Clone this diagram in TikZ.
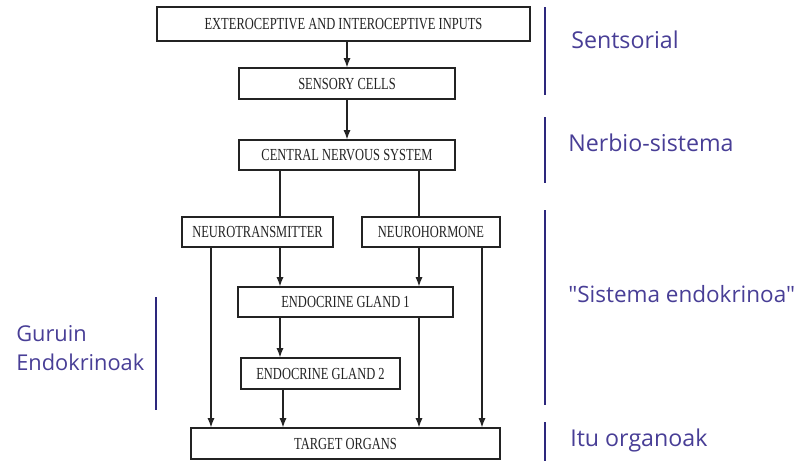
\documentclass[tikz,border=0pt]{standalone}
\usepackage{fontspec}
\usepackage{xcolor}
\usepackage{tikz}
\usetikzlibrary{arrows.meta, positioning, calc}
\setmainfont{Liberation Serif}
\newfontfamily\boxfont{Liberation Serif}[FakeStretch=0.74]
\newfontfamily\tagfont{Open Sans}
\definecolor{mydark}{RGB}{35,35,35}
\definecolor{mynavy}{RGB}{45,40,125}
\definecolor{mytag}{RGB}{72,62,150}
\tikzset{
  line/.style={draw=mydark, line width=0.9pt},
  arrow/.style={draw=mydark, line width=0.9pt, -{Latex[length=6.5pt, width=5pt]}},
  block/.style={draw=mydark, line width=0.9pt, fill=white, rectangle, inner sep=0pt, align=center, font=\boxfont\fontsize{12}{14}\selectfont, text=mydark},
  bar/.style={draw=mynavy, line width=2pt},
  tag/.style={anchor=west, inner sep=0pt, align=left, text=mytag, font=\tagfont\fontsize{16.5}{20}\selectfont}
}

\begin{document}
\begin{tikzpicture}[x=0.025cm, y=-0.025cm]
  \useasboundingbox (0,0) rectangle (799,461);

  % the chain of boxes
  \node [block, minimum width=9.325cm, minimum height=0.85cm] (inputs) at (343.5,24) {EXTEROCEPTIVE AND INTEROCEPTIVE INPUTS};
  \node [block, minimum width=5.4cm, minimum height=0.775cm] (sensory) at (347,83.5) {SENSORY CELLS};
  \node [block, minimum width=5.4cm, minimum height=0.75cm] (cns) at (347,155) {CENTRAL NERVOUS SYSTEM};
  \node [block, minimum width=3.775cm, minimum height=0.75cm] (ntrans) at (257.5,232) {NEUROTRANSMITTER};
  \node [block, minimum width=3.45cm, minimum height=0.75cm] (nhorm) at (431,232) {NEUROHORMONE};
  \node [block, minimum width=5.375cm, minimum height=0.75cm] (gland1) at (345.5,302) {ENDOCRINE GLAND 1};
  \node [block, minimum width=3.975cm, minimum height=0.775cm] (gland2) at (320.5,373.5) {ENDOCRINE GLAND 2};
  \node [block, minimum width=7.725cm, minimum height=0.775cm] (target) at (345.5,443.5) {TARGET ORGANS};

  % columns the connectors run along
  \coordinate (colA) at (211,0);
  \coordinate (colB) at (280,0);
  \coordinate (colC) at (283,0);
  \coordinate (colD) at (419,0);
  \coordinate (colE) at (482,0);

  \draw [arrow] (inputs.south -| sensory.north) -- (sensory.north);
  \draw [arrow] (sensory) -- (cns);
  \draw [line] (cns.south -| colB) -- (ntrans.north -| colB);
  \draw [line] (cns.south -| colD) -- (nhorm.north -| colD);
  \draw [arrow] (ntrans.south -| colA) -- (target.north -| colA);
  \draw [arrow] (ntrans.south -| colB) -- (gland1.north -| colB);
  \draw [arrow] (nhorm.south -| colD) -- (gland1.north -| colD);
  \draw [arrow] (nhorm.south -| colE) -- (target.north -| colE);
  \draw [arrow] (gland1.south -| colB) -- (gland2.north -| colB);
  \draw [arrow] (gland1.south -| colD) -- (target.north -| colD);
  \draw [arrow] (gland2.south -| colC) -- (target.north -| colC);

  % levels on the right
  \draw [bar] (545,7) -- (545,95);
  \draw [bar] (545,117) -- (545,183);
  \draw [bar] (545,210) -- (545,405);
  \draw [bar] (545,422) -- (545,461);
  \node [tag] (sens) at (571,40) {Sentsorial};
  \node [tag] (nerb) at (568,143) {Nerbio-sistema};
  \node [tag, font=\tagfont\fontsize{16}{20}\selectfont] (endo) at (568,294) {"Sistema endokrinoa"};
  \node [tag] (itu) at (570,440) {Itu organoak};

  % glands on the left
  \draw [bar] (156,297) -- (156,410);
  \node [tag, font=\tagfont\fontsize{15.5}{20.5}\selectfont] (guruin) at (16,348) {Guruin\\Endokrinoak};
\end{tikzpicture}
\end{document}
